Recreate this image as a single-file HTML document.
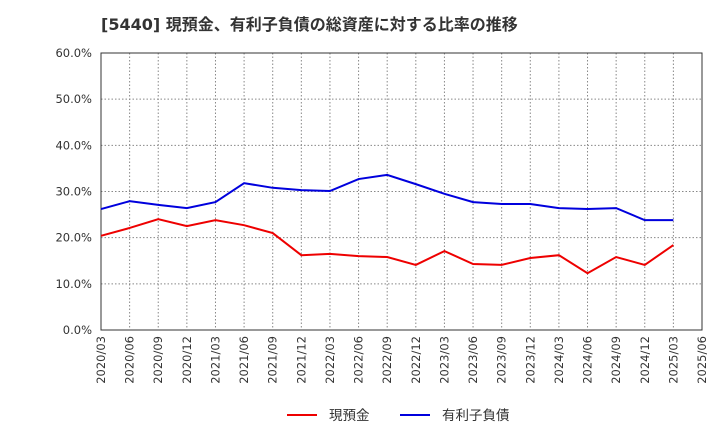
<!DOCTYPE html>
<html><head><meta charset="utf-8"><style>
body{margin:0;background:#fff;width:720px;height:440px;overflow:hidden}
text{font-family:"DejaVu Sans","Noto Sans CJK JP",sans-serif}
</style></head><body>
<svg id="c" width="720" height="440">
<text x="101" y="30" font-size="16" font-weight="bold" fill="#333">[5440]  現預金、有利子負債の総資産に対する比率の推移</text>
</svg>
<script>
const categories=["2020/03","2020/06","2020/09","2020/12","2021/03","2021/06","2021/09","2021/12","2022/03","2022/06","2022/09","2022/12","2023/03","2023/06","2023/09","2023/12","2024/03","2024/06","2024/09","2024/12","2025/03","2025/06"];
const cashValues=[20.4,22.1,24.0,22.5,23.8,22.7,21.0,16.2,16.5,16.0,15.8,14.1,17.1,14.3,14.1,15.6,16.2,12.3,15.8,14.1,18.4];
const debtValues=[26.2,27.9,27.1,26.4,27.7,31.8,30.8,30.3,30.1,32.7,33.6,31.6,29.5,27.7,27.3,27.3,26.4,26.2,26.4,23.8,23.8];
const yTicks=[0,10,20,30,40,50,60];
const seriesNames=["現預金","有利子負債"];
const svg=document.getElementById('c');const NS="http://www.w3.org/2000/svg";
const L=101,R=702,T=53,B=330;
const x=i=>L+i*(R-L)/(categories.length-1);
const y=v=>B-(v/60)*(B-T);
function mk(t,a,p){const e=document.createElementNS(NS,t);for(const k in a)e.setAttribute(k,a[k]);(p||svg).appendChild(e);return e;}
yTicks.forEach(v=>{
 const g=mk('line',{x1:L,x2:R,y1:y(v),y2:y(v),stroke:'#888','stroke-dasharray':'1.5,2','stroke-width':1});
 
 
 const t=mk('text',{x:92,y:y(v)+4,'text-anchor':'end','font-size':11.5,fill:'#333'});t.textContent=v.toFixed(1)+'%';
 
 
});
categories.forEach((c,i)=>{
 const g=mk('line',{x1:x(i),x2:x(i),y1:T,y2:B,stroke:'#888','stroke-dasharray':'1.5,2','stroke-width':1});
 
 
 const t=mk('text',{x:x(i)+4,y:B+6,'text-anchor':'end','font-size':11.5,fill:'#333',transform:`rotate(-90 ${x(i)+4} ${B+6})`});t.textContent=c;
 
 
});
const f=mk('rect',{x:L,y:T,width:R-L,height:B-T,fill:'none',stroke:'#333','stroke-width':1});


[[cashValues,'#e00','cash-line'],[debtValues,'#00d','debt-line']].forEach(([d,col,n])=>{
 const p=mk('polyline',{points:d.map((v,i)=>x(i)+','+y(v)).join(' '),fill:'none',stroke:col,'stroke-width':2});
 
 
});
[[287,'#e00',0],[400,'#00d',1]].forEach(([lx,col,k])=>{
 const g=mk('g',{});
 
 
 mk('line',{x1:lx,x2:lx+30,y1:415,y2:415,stroke:col,'stroke-width':2},g);
 const t=mk('text',{x:lx+42,y:420,'font-size':13.5,fill:'#333'},g);t.textContent=seriesNames[k];
});
</script>
</body></html>
